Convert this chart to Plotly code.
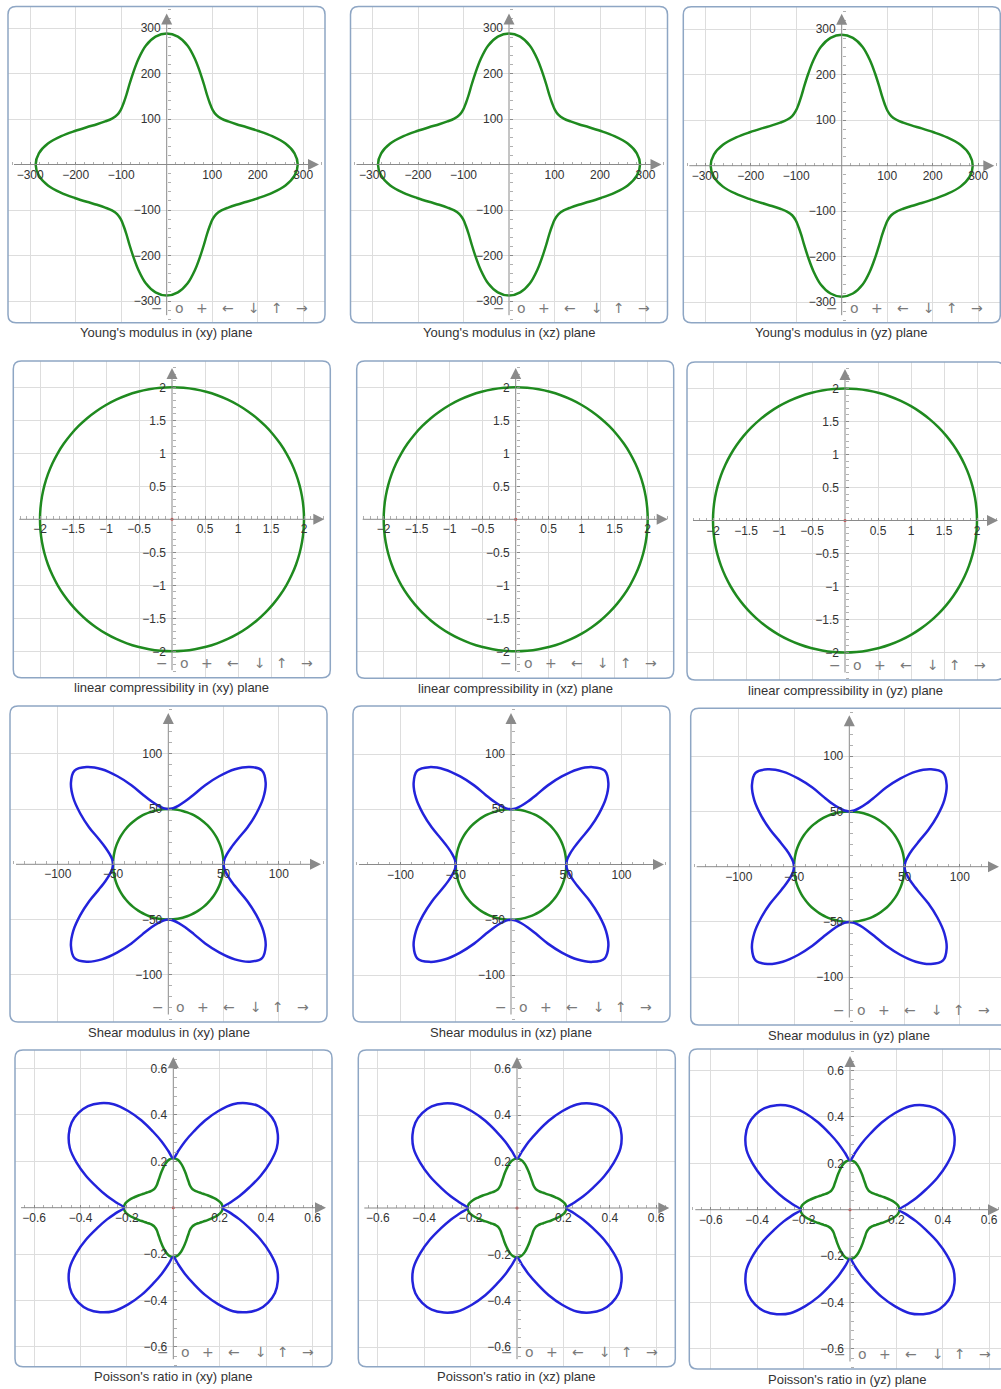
import numpy as np
import plotly.graph_objects as go

W, H = 1001, 1389

# ---- data: radii sampled every 5 degrees over one quadrant ----
# (the cubic symmetry repeats the quadrant in the other three)
quadrant_deg = [0, 5, 10, 15, 20, 25, 30, 35, 40, 45, 50, 55, 60, 65, 70, 75, 80, 85, 90]

young_r = [288, 282, 265, 240, 215, 194, 177, 165, 157, 154,
           157, 165, 177, 194, 215, 240, 265, 282, 288]

compress_r = [2.0, 2.0, 2.0, 2.0, 2.0, 2.0, 2.0, 2.0, 2.0, 2.0,
              2.0, 2.0, 2.0, 2.0, 2.0, 2.0, 2.0, 2.0, 2.0]

shear_max_r = [50, 51, 54, 59, 67, 79, 92, 105, 115, 120,
               115, 105, 92, 79, 67, 59, 54, 51, 50]
shear_min_r = [50, 50, 50, 50, 50, 50, 50, 50, 50, 50,
               50, 50, 50, 50, 50, 50, 50, 50, 50]

poisson_max_r = [0.213, 0.245, 0.29, 0.34, 0.40, 0.46, 0.515, 0.55, 0.572, 0.578,
                 0.572, 0.55, 0.515, 0.46, 0.40, 0.34, 0.29, 0.245, 0.213]
poisson_min_r = [0.213, 0.208, 0.193, 0.174, 0.157, 0.142, 0.131, 0.122, 0.117, 0.115,
                 0.117, 0.122, 0.131, 0.142, 0.157, 0.174, 0.193, 0.208, 0.213]

planes = ["xy", "xz", "yz"]

young_ticks = [-300, -200, -100, 100, 200, 300]
compress_ticks = [-2, -1.5, -1, -0.5, 0.5, 1, 1.5, 2]
shear_ticks = [-100, -50, 50, 100]
poisson_ticks = [-0.6, -0.4, -0.2, 0.2, 0.4, 0.6]

origin_point = [0.0]

# ---- styling ----
FONT = "Liberation Sans, Arial, sans-serif"
GREEN = "#1f8a1f"
BLUE = "#2323db"
GRID = "#dddddd"
AXIS_C = "#8a8a8a"
BORDER = "#8ea6c4"
TEXT_C = "#333333"
BOX_W = 317

rows = [
    dict(name="Young's modulus", curves=[(young_r, GREEN)], ticks=young_ticks,
         minor_step=20, scale=0.455, dot=False),
    dict(name="linear compressibility", curves=[(compress_r, GREEN)], ticks=compress_ticks,
         minor_step=0.1, scale=66.0, dot=True),
    dict(name="Shear modulus", curves=[(shear_min_r, GREEN), (shear_max_r, BLUE)],
         ticks=shear_ticks, minor_step=10, scale=1.105, dot=False),
    dict(name="Poisson's ratio", curves=[(poisson_min_r, GREEN), (poisson_max_r, BLUE)],
         ticks=poisson_ticks, minor_step=0.04, scale=232.0, dot=True),
]

# panel frames in pixels: (left, top, bottom, origin_x, origin_y)
frames = [
    [(8.0, 6.5, 322.7, 166.7, 164.5), (350.5, 6.5, 322.7, 509.0, 164.5),
     (683.3, 6.7, 322.7, 841.7, 165.7)],
    [(13.3, 361.0, 677.7, 172.0, 519.3), (356.7, 361.0, 678.3, 515.7, 519.3),
     (687.0, 362.0, 680.0, 845.0, 520.5)],
    [(10.0, 706.0, 1022.0, 168.3, 864.3), (353.0, 706.0, 1022.0, 511.0, 864.5),
     (690.7, 708.3, 1025.0, 849.3, 866.7)],
    [(15.0, 1050.0, 1366.7, 173.3, 1207.7), (358.3, 1050.0, 1366.7, 517.0, 1208.0),
     (689.3, 1049.0, 1369.0, 850.0, 1209.7)],
]

toolbar_glyphs = ["\u2212", "o", "+", "\u2190", "\u2193", "\u2191", "\u2192"]
toolbar_dx = [-10, 12.5, 35, 61, 87.5, 110, 135]


def closed_curve(r_quadrant):
    deg = np.array(quadrant_deg, dtype=float)
    r = np.array(r_quadrant, dtype=float)
    th = np.concatenate([deg[:-1] + 90 * k for k in range(4)])
    rr = np.concatenate([r[:-1]] * 4)
    t = np.radians(th)
    x = rr * np.cos(t)
    y = rr * np.sin(t)
    # repeat the first point so the spline is drawn as a closed loop
    return np.append(x, x[0]), np.append(y, y[0])


def fmt(v):
    s = f"{abs(v):g}"
    return ("\u2212" + s) if v < 0 else s


def px_x(p):
    return p / W


def px_y(p):
    return 1 - p / H


def rounded_box(L, T, R, B, rad=8):
    rx, ry = rad / W, rad / H
    x0, x1 = px_x(L), px_x(R)
    y0, y1 = px_y(T), px_y(B)
    return (f"M {x0 + rx},{y0} L {x1 - rx},{y0} Q {x1},{y0} {x1},{y0 - ry} "
            f"L {x1},{y1 + ry} Q {x1},{y1} {x1 - rx},{y1} L {x0 + rx},{y1} "
            f"Q {x0},{y1} {x0},{y1 + ry} L {x0},{y0 - ry} Q {x0},{y0} {x0 + rx},{y0} Z")


fig = go.Figure()
layout = {}
shapes = []
annotations = []

idx = 0
for ri, row in enumerate(rows):
    s = row["scale"]
    ticks = row["ticks"]
    step = row["minor_step"]
    for ci, (L, T, B, ox, oy) in enumerate(frames[ri]):
        idx += 1
        sfx = "" if idx == 1 else str(idx)
        xn, yn = "x" + sfx, "y" + sfx
        R = L + BOX_W
        Rv = min(R, W)
        x_range = [(L - ox) / s, (Rv - ox) / s]
        y_range = [(oy - B) / s, (oy - T) / s]

        n_minor = int(np.ceil(max(abs(x_range[0]), x_range[1], abs(y_range[0]), y_range[1]) / step))
        minor_vals = [round(k * step, 6) for k in range(-n_minor, n_minor + 1) if k != 0]

        common = dict(
            anchor="free", tickmode="array", tickvals=ticks,
            ticktext=[fmt(v) for v in ticks],
            showgrid=True, gridcolor=GRID, gridwidth=1,
            zeroline=False, showline=False,
            ticks="inside", ticklen=3, tickwidth=1, tickcolor=AXIS_C,
            minor=dict(tickvals=minor_vals, ticks="inside", ticklen=3,
                       tickwidth=1, tickcolor="#b0b0b0", showgrid=False),
            tickfont=dict(family=FONT, size=12, color=TEXT_C),
            fixedrange=True,
        )
        layout["xaxis" + sfx] = dict(domain=[px_x(L), px_x(Rv)], range=x_range,
                                     position=px_y(oy), ticklabelstandoff=1, **common)
        layout["yaxis" + sfx] = dict(domain=[px_y(B), px_y(T)], range=y_range,
                                     position=px_x(ox), ticklabelstandoff=6, **common)

        for r_vals, color in row["curves"]:
            cx, cy = closed_curve(r_vals)
            fig.add_trace(go.Scatter(
                x=cx, y=cy, mode="lines", xaxis=xn, yaxis=yn,
                line=dict(color=color, width=2.5, shape="spline", smoothing=1.0),
                hoverinfo="skip", showlegend=False, cliponaxis=False))

        if row["dot"]:
            fig.add_trace(go.Scatter(
                x=origin_point, y=origin_point, mode="markers", xaxis=xn, yaxis=yn,
                marker=dict(color="#ff2020", size=3), hoverinfo="skip", showlegend=False))

        # axis lines with arrowheads
        tip_x = (min(R - 6, W - 2) - ox) / s
        annotations.append(dict(
            x=tip_x, y=0, ax=(L + 4.5 - ox) / s, ay=0,
            xref=xn, yref=yn, axref=xn, ayref=yn, text="", showarrow=True,
            arrowhead=2, arrowsize=2.2, arrowwidth=1, arrowcolor=AXIS_C, standoff=0))
        annotations.append(dict(
            x=0, y=(oy - (T + 7)) / s, ax=0, ay=(oy - (B - 6)) / s,
            xref=xn, yref=yn, axref=xn, ayref=yn, text="", showarrow=True,
            arrowhead=2, arrowsize=2.2, arrowwidth=1, arrowcolor=AXIS_C, standoff=0))

        # panel frame
        shapes.append(dict(type="path", path=rounded_box(L, T, R, B), xref="paper",
                           yref="paper", line=dict(color=BORDER, width=1.5),
                           fillcolor="rgba(0,0,0,0)", layer="above"))

        # toolbar glyphs
        for g, dx in zip(toolbar_glyphs, toolbar_dx):
            annotations.append(dict(
                x=px_x(ox + dx), y=px_y(B - 15), xref="paper", yref="paper",
                text=g, showarrow=False, xanchor="center", yanchor="middle",
                font=dict(family="DejaVu Sans, Liberation Sans, sans-serif",
                          size=14, color="#7a7a7a")))

        # caption
        annotations.append(dict(
            x=px_x((L + R) / 2), y=px_y(B + 10), xref="paper", yref="paper",
            text=f"{row['name']} in ({planes[ci]}) plane", showarrow=False,
            xanchor="center", yanchor="middle",
            font=dict(family=FONT, size=13, color=TEXT_C)))

fig.update_layout(
    width=W, height=H,
    margin=dict(l=0, r=0, t=0, b=0),
    paper_bgcolor="white", plot_bgcolor="white",
    showlegend=False,
    shapes=shapes, annotations=annotations,
    **layout,
)

fig.write_html("out.html")
